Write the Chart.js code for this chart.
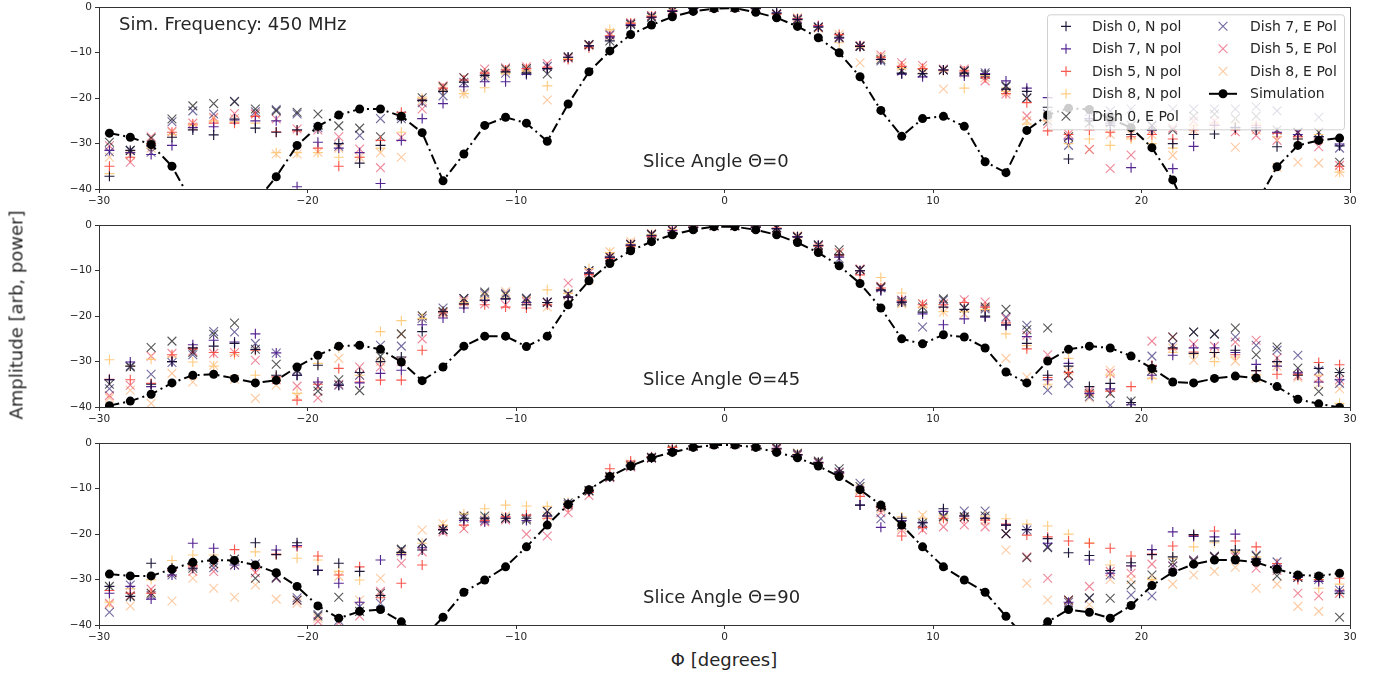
<!DOCTYPE html>
<html>
<head>
<meta charset="utf-8">
<script src="https://cdn.jsdelivr.net/npm/chart.js@4.4.1/dist/chart.umd.min.js"></script>
<style>
  body { margin: 0; background: #fff; width: 1382px; height: 675px; position: relative; overflow: hidden; font-family: "DejaVu Sans", sans-serif; }
  canvas { position: absolute; left: 0; }
  #ylab { position: absolute; left: 16px; top: 315px; transform: translate(-50%, -50%) rotate(-90deg); font-size: 18px; color: #262626; white-space: nowrap; }
  #xlab { position: absolute; left: 724px; top: 659px; transform: translate(-50%, -50%); font-size: 18px; color: #262626; white-space: nowrap; }
</style>
</head>
<body>
<canvas id="c0" width="1382" height="213" style="top:-2px"></canvas>
<canvas id="c1" width="1382" height="213" style="top:216px"></canvas>
<canvas id="c2" width="1382" height="213" style="top:434px"></canvas>
<div id="ylab">Amplitude [arb, power]</div>
<div id="xlab">Φ [degrees]</div>
<script>
// pointing angle of every sample (degrees)
const phi = [-29.5,-28.5,-27.5,-26.5,-25.5,-24.5,-23.5,-22.5,-21.5,-20.5,-19.5,-18.5,-17.5,-16.5,-15.5,-14.5,-13.5,-12.5,-11.5,-10.5,
  -9.5,-8.5,-7.5,-6.5,-5.5,-4.5,-3.5,-2.5,-1.5,-0.5,0.5,1.5,2.5,3.5,4.5,5.5,6.5,7.5,8.5,9.5,
  10.5,11.5,12.5,13.5,14.5,15.5,16.5,17.5,18.5,19.5,20.5,21.5,22.5,23.5,24.5,25.5,26.5,27.5,28.5,29.5];

const dishLabels = ['Dish 0, N pol','Dish 7, N pol','Dish 5, N pol','Dish 8, N pol','Dish 0, E Pol','Dish 7, E Pol','Dish 5, E Pol','Dish 8, E Pol'];
const xTicks = [-30, -20, -10, 0, 10, 20, 30];
const yTicks = [0, -10, -20, -30, -40];

// slice angle 0
const sim0 = [-27.7,-28.6,-30.2,-35,-43.3,-50,-52,-43,-37.3,-30.4,-26.2,-23.7,-22.4,-22.4,-24,-27.6,-38.2,-32.3,-26,-24.2,
  -25.5,-29.5,-21.3,-14.2,-9.6,-6,-3.9,-2.1,-0.9,-0.3,-0.2,-1.1,-2.3,-4.2,-6.7,-10,-15.3,-22.7,-28.4,-24.5,
  -24,-26.2,-34,-36.4,-27.1,-23.7,-22.2,-22.5,-24.5,-26.5,-30.9,-38,-48,-55,-52,-43.3,-35.1,-30.4,-29.3,-28.8];
const t0_d0n = [-37.2,-31.5,-30.5,-28.6,-27,-28.1,-24.6,-26.6,-27.5,-27,-26.8,-30,-34.3,-30.4,-24.5,-20.5,-18.5,-16.5,-15,-14.2,
  -14.5,-13.5,-11,-8.5,-7.4,-4,-2.2,-0.9,-0.3,0,0,-0.3,-1.3,-2.7,-4.4,-6.6,-8.6,-11.5,-14.5,-14.6,
  -13.8,-14.5,-14.8,-18,-18.5,-22,-33.4,-25,-26,-28,-27,-30,-28,-27.9,-26.5,-27,-30.7,-29,-28.5,-30.5];
const t0_d7n = [-31.5,-32,-32.4,-30.4,-26.5,-26.3,-24.8,-25,-25,-39.5,-29.7,-31,-32,-38.8,-29.3,-24.5,-21.2,-17.5,-16.4,-16.4,
  -14.8,-13.5,-11,-8.5,-6.5,-3.8,-2.2,-0.8,-0.2,0,0,-0.2,-1.2,-2.6,-4.2,-6.8,-8.6,-11.5,-14.7,-15.3,
  -13.8,-15.1,-14.6,-16.2,-17.8,-19.9,-29,-24.5,-25.5,-35.3,-27,-35.5,-30.6,-26,-26.4,-26.5,-27.5,-28,-28.5,-30.1];
const t0_d5n = [-35,-33,-30,-27.5,-25.7,-25.5,-25.5,-24,-27.4,-27.2,-31,-35,-33,-29.3,-23.1,-20.5,-17.8,-16,-14.5,-13.8,
  -13.5,-13.2,-11.5,-8.9,-6.3,-3.5,-2,-0.7,-0.2,0,0,-0.3,-1.5,-2.5,-4,-6,-8.4,-11,-13,-13.5,
  -13.8,-14,-15.5,-19,-21,-27.2,-28,-27,-27.5,-28.5,-28,-29,-27,-26,-27,-26,-27.7,-28.5,-29,-35];
const t0_d8n = [-36.6,-32,-31,-28,-26,-25,-25.2,-25.5,-32,-32,-32,-33,-33,-31,-27.5,-20,-18.5,-19,-17.7,-14.5,
  -14,-17.3,-11.3,-8.4,-4.9,-3.5,-1.9,-0.6,-0.1,0,0,-0.2,-1.4,-2.4,-4.3,-7.8,-8.8,-11,-13.5,-13.5,
  -14,-17.8,-15,-18.5,-25.7,-25,-30,-29,-30.4,-29,-30,-31,-26,-25.7,-25.5,-25.5,-28.5,-29,-28,-36.3];
const t0_d0e = [-29.7,-31.5,-28.8,-24.6,-21.7,-21.2,-20.8,-22.4,-22.8,-23.1,-23.5,-26.1,-26.6,-28.5,-23.9,-19.9,-17.5,-15.5,-14.5,-13.6,
  -13.5,-14.7,-10.9,-8.2,-7.4,-3.8,-2.2,-0.9,-0.3,0,0,-0.3,-1.5,-2.8,-4.4,-6.6,-8.6,-11.5,-14,-14.4,
  -13.8,-14,-14.8,-17.3,-20,-25,-28.5,-25.5,-25.5,-26,-26,-27,-24,-23.5,-24.5,-24,-27,-27.5,-27.5,-34.1];
const t0_d7e = [-31.8,-31.5,-31.9,-25.2,-22.8,-23.5,-20.7,-23,-22.5,-23.5,-26.5,-30.6,-28.2,-24.5,-24.5,-21,-19.5,-16.5,-15.5,-14.5,
  -14,-13,-11,-8.3,-6,-3.6,-2,-0.8,-0.2,0,0,-0.2,-1.4,-2.6,-4.3,-6.8,-8.6,-11.8,-14,-14.5,
  -13.8,-14,-14.4,-17.5,-19.9,-23.5,-30.4,-23,-22.8,-22.4,-26.1,-22.4,-22.4,-22.4,-22.4,-21.9,-22.8,-27.5,-24.2,-31];
const t0_d5e = [-30.5,-34.1,-28.5,-27.3,-25.5,-24.2,-23.4,-23.5,-24.6,-26.8,-27,-28.5,-31.2,-35.3,-28.6,-22.4,-17.3,-15.5,-13.6,-13.3,
  -13.1,-12.4,-11.2,-8.2,-6.2,-3.4,-1.8,-0.6,-0.1,0,0,-0.2,-1.6,-2.5,-4.5,-6.6,-8.4,-10.5,-12.2,-12.8,
  -13.6,-13.6,-16.2,-19.1,-23.9,-25.7,-27.9,-31.3,-35.5,-32.5,-27,-26.6,-25,-25,-27.4,-28.2,-29.3,-27.7,-30.7,-34.8];
const t0_d8e = [-33,-32.5,-31,-27.5,-26.2,-24.5,-24.5,-23.5,-32.3,-32.3,-31.9,-31,-33,-32,-33,-20.5,-17.8,-19,-15,-14,
  -13.5,-20.4,-11,-8.5,-5.5,-3.4,-1.8,-0.6,-0.1,0,0,-0.2,-1.5,-2.3,-4.6,-6,-12.2,-11,-13,-13.5,
  -18,-14.5,-15.5,-18.5,-25,-24,-28.5,-31.3,-28,-28,-28,-32.6,-27,-26,-30.8,-27,-35.2,-34.1,-34.3,-36.3];

// slice angle 45
const sim45 = [-39.7,-38.7,-37.2,-34.7,-33,-32.8,-33.7,-34.7,-34.1,-31.2,-28.6,-26.6,-26.4,-27.3,-30.1,-34.2,-31.2,-26.6,-24.4,-24.4,
  -26.7,-24.4,-17.5,-12.2,-8.4,-5.6,-3.6,-2.1,-1.0,-0.3,-0.3,-1.0,-2.1,-3.8,-6,-8.9,-12.8,-18.2,-25,-26.1,
  -24.1,-24.6,-27,-32.3,-34.7,-29.9,-27.3,-26.6,-27,-28.8,-31.5,-34.5,-34.7,-33.7,-33.2,-33.6,-35.5,-38.3,-39.3,-40.1];
const t45_d0n = [-34,-31,-35,-30,-27,-26.6,-26,-27.3,-33,-33,-30.8,-35.2,-32.4,-30,-29,-23.4,-19,-17.3,-16.5,-16.2,
  -17.5,-17,-15.8,-10.5,-7,-4.4,-2.2,-1.6,-0.5,-0.1,-0.1,-0.4,-0.8,-2.6,-4.5,-6.5,-10,-14.2,-16.9,-19.1,
  -18,-18.5,-20,-21.9,-26,-33,-31,-35.5,-34.8,-39,-31,-27,-28.2,-28,-27.5,-32,-30,-33,-31.5,-32.4];
const t45_d7n = [-34,-30.1,-35.5,-30,-26.3,-25.3,-25.7,-23.9,-28.1,-33,-34.5,-35.2,-34.7,-32.6,-31.9,-21.9,-20.4,-18.2,-16.5,-16.2,
  -17,-17,-15.8,-10.5,-7,-4.3,-2.3,-1.2,-0.4,-0.1,-0.1,-0.4,-0.7,-2.5,-4.4,-7,-10,-14.4,-16.9,-19.5,
  -21.9,-20.6,-20.2,-22,-24.5,-34,-30.4,-37,-36,-39.5,-33,-28.6,-27,-27,-28,-30.6,-31,-32.5,-34.5,-34];
const t45_d5n = [-33.9,-34,-34.8,-28.5,-27.2,-28,-28,-27.5,-33.4,-38.5,-35,-31.5,-34.5,-34.1,-34.1,-27.5,-19.3,-17.5,-17.5,-18,
  -18.2,-17.5,-15.8,-10.8,-7.3,-4.6,-2.5,-1.1,-0.4,-0.1,-0.1,-0.4,-0.6,-2.5,-4.6,-6.5,-10.9,-13.8,-16.5,-17.5,
  -17.5,-17,-18,-21.5,-27.2,-33.5,-32.4,-36.5,-36.5,-35.5,-30.8,-27.2,-27.9,-28,-28.5,-32,-32.8,-32.8,-30.2,-30.7];
const t45_d8n = [-29.6,-31,-29.5,-29,-30.1,-31,-28.5,-33,-34,-37,-30.4,-27,-33,-23.4,-21,-20.5,-19,-17,-16,-16,
  -17,-14.2,-15,-9.5,-6,-4,-2,-1,-0.3,-0.1,-0.1,-0.4,-0.7,-2.4,-4.3,-6.5,-10,-11.5,-14.9,-18,
  -19,-19,-18.5,-23.9,-26.5,-35,-29.3,-37,-33,-41,-33.7,-28,-28.5,-30,-29,-33,-31,-33,-33,-39.2];
const t45_d0e = [-35,-31.2,-26.9,-25.5,-28,-24,-21.5,-27.3,-30.6,-32,-36.5,-34,-36.4,-28.8,-23.9,-19.9,-19,-16.1,-14.7,-15.3,
  -16.2,-16.9,-15.1,-10,-7,-4.2,-2,-1.2,-0.4,-0.1,-0.1,-0.4,-0.5,-2.5,-4.3,-5.4,-9.8,-13.6,-16.9,-18,
  -16.2,-18.2,-18,-18.5,-23,-22.6,-33,-37,-37,-38.7,-32,-24.6,-23.5,-23.9,-22.6,-28.5,-26.8,-31.4,-36.6,-32.4];
const t45_d7e = [-36,-31,-32.8,-30.2,-28.5,-23.4,-23.5,-26,-28.1,-31.8,-35.5,-35.2,-33,-26.4,-26.6,-20.5,-18.2,-16.1,-15,-15,
  -16,-17,-15.3,-10,-7,-4.3,-2.1,-1.1,-0.4,-0.1,-0.1,-0.4,-0.6,-2.6,-4.4,-7.3,-9.8,-13.8,-16.5,-22.4,
  -16.5,-18.2,-18.4,-20.2,-22,-36.3,-34.8,-37.7,-39.6,-41,-28.8,-26.4,-23.5,-24,-24.6,-26.4,-27.5,-28.6,-32,-34.8];
const t45_d5e = [-37.5,-35.2,-28.8,-28.2,-27.7,-28.2,-28,-29.7,-34,-35.4,-38,-35,-31.2,-31.2,-30,-25,-19.2,-16.5,-17.3,-17.5,
  -16.8,-17,-12.7,-10.5,-6.8,-4.1,-1.9,-1,-0.3,-0.1,-0.1,-0.4,-0.6,-2.5,-4.6,-6,-9.6,-13.5,-16.5,-17.3,
  -17.3,-16.4,-16.9,-20.5,-24.2,-28.5,-33,-36.5,-32.6,-41,-25.5,-24.6,-26.1,-26.6,-25.7,-25.3,-29.2,-33.1,-33.7,-34];
const t45_d8e = [-38,-36.3,-39.2,-32.6,-34.5,-30.8,-33.9,-38.1,-35.2,-37.7,-35.5,-29.3,-33,-30,-24,-20,-19.5,-17,-15.5,-14.6,
  -16.5,-18,-15.5,-12,-5.8,-3.6,-1.8,-0.9,-0.3,-0.1,-0.1,-0.4,-0.7,-2.3,-4.5,-6.2,-9.8,-13.5,-17.3,-17.3,
  -19.1,-19.5,-18,-29.3,-33.4,-34.7,-32,-38,-31.9,-42,-33,-27,-29.7,-28.6,-29.9,-33.7,-31,-33.5,-35,-36];

// slice angle 90
const sim90 = [-28.8,-29.2,-29.2,-27.7,-26.2,-25.7,-25.8,-26.8,-28.5,-31.5,-35.8,-38.5,-37,-36.6,-39.3,-43,-38.3,-32.8,-30.1,-27.2,
  -22.8,-18,-13.5,-10.2,-7.3,-5,-3.2,-2,-0.9,-0.4,-0.4,-0.9,-2,-3.2,-5,-7.3,-10.2,-13.6,-18,-22.8,
  -27.2,-30.1,-32.8,-38.1,-43,-39.3,-36.6,-37.2,-38.5,-35.7,-31.3,-28.4,-26.6,-25.7,-25.7,-26.2,-27.7,-29,-29.2,-28.6];
const t90_d0n = [-31.5,-33.7,-26.4,-27.5,-27.5,-25.5,-26,-21.9,-24.5,-21.9,-28,-26.4,-28.2,-33.5,-24,-23.5,-19,-16.5,-16.5,-16.5,
  -16.5,-16,-13.5,-10.5,-7.4,-5,-3.2,-1.5,-0.6,-0.1,-0.1,-0.6,-1.2,-2.5,-4.2,-6.3,-13.6,-14,-16.5,-17.5,
  -14.4,-16,-16.5,-18,-19,-21,-24.1,-24.7,-28,-26.3,-24.5,-25,-20.1,-21.5,-23.5,-25.5,-27.5,-29.3,-29.5,-33];
const t90_d7n = [-33,-31.5,-34.3,-29,-22,-23.1,-26.8,-27,-23.5,-22.5,-27.9,-30.8,-35,-25.7,-24.5,-23,-19,-17,-17.3,-16.5,
  -17,-16,-13.3,-10.4,-7.3,-4.8,-3.1,-1.4,-0.6,-0.1,-0.1,-0.6,-1.1,-2.6,-4.3,-6.5,-13.6,-18.5,-17,-17.5,
  -15,-16,-16.5,-18,-19,-22,-35,-25.7,-28.6,-27,-23.4,-19.5,-20.5,-20.6,-20,-26,-27,-29.5,-30.4,-32.5];
const t90_d5n = [-32.4,-33,-33,-28,-27,-26,-23.4,-27.5,-24.4,-22.8,-24.8,-29,-27.2,-34,-30.8,-26.8,-19,-18,-17,-16.2,
  -15.8,-16.5,-14,-10.8,-5.6,-3.9,-3,-0.9,-0.6,-0.1,-0.1,-0.6,-1.3,-2.5,-4.4,-6.6,-11.7,-14,-20.4,-18.5,
  -16.5,-16.5,-16.9,-17.8,-20.2,-20.6,-21.5,-22,-23.1,-24.8,-24.4,-22.6,-20.3,-19.3,-21.5,-22.8,-26.5,-30,-30,-29.7];
const t90_d8n = [-35,-32,-30,-25.8,-24.6,-24.6,-26,-23.9,-24.5,-25.3,-25.7,-28.2,-30.1,-33.5,-24.2,-22,-18,-15.5,-14.4,-13.6,
  -13.8,-13.9,-13,-10.2,-7,-4.4,-2.9,-0.9,-0.6,-0.1,-0.1,-0.6,-1.2,-2.4,-4.2,-6.8,-11,-14,-16.2,-16.5,
  -16,-16,-16,-16.6,-17.8,-18.2,-20,-21.9,-26.8,-27,-30,-25.3,-22.8,-21.9,-23.9,-25,-27,-29.5,-31.9,-31];
const t90_d0e = [-31.5,-33.7,-33,-28.5,-27.5,-26.5,-25.5,-29.7,-29.5,-34.5,-38,-33.9,-37,-33,-23.3,-22,-19,-16,-16,-16.5,
  -16.9,-14.9,-13.1,-10.4,-7.4,-5,-3.2,-1.5,-0.6,-0.1,-0.1,-0.6,-0.9,-2.2,-3.9,-5.6,-9.5,-14,-18,-17.5,
  -16.2,-16.2,-16,-19.9,-25.2,-23,-34.5,-34,-34.1,-31.2,-29,-26.3,-26,-25,-24.4,-24.8,-29.2,-29.5,-29.5,-38.3];
const t90_d7e = [-37.2,-31.2,-33.5,-29,-27,-27.4,-26.8,-26.5,-29.7,-34,-37.7,-39,-36,-35.2,-23.5,-21.9,-19,-16.5,-17,-16.5,
  -16.5,-15,-13.5,-10.5,-7.3,-4.8,-3.1,-1.4,-0.6,-0.1,-0.1,-0.6,-1.1,-2.5,-4.2,-6.3,-8.8,-16.6,-18,-18,
  -16,-14.9,-14.9,-19.9,-19.1,-22.8,-35,-34.1,-29,-33.4,-33.6,-27,-25.7,-24.8,-24.4,-24.6,-26.1,-29.5,-30,-32.3];
const t90_d5e = [-35.2,-33.5,-32.1,-28.5,-28.2,-28.2,-26.8,-28.5,-29.7,-34.6,-39.2,-39.5,-38,-32.6,-26.4,-23.9,-19.5,-18.8,-17.3,-16.9,
  -20,-20.4,-15.3,-11.5,-7.6,-5.2,-3.3,-1.6,-0.6,-0.1,-0.1,-0.6,-1.3,-2.6,-4.3,-6.5,-10.5,-15.3,-19.1,-19.1,
  -18.4,-18,-18.4,-19.9,-25,-29.7,-34.5,-31.5,-28.2,-28.6,-26.6,-27,-25.7,-25,-25,-27.5,-28,-33,-33.6,-33];
const t90_d8e = [-35.5,-35.8,-33,-34.7,-29.7,-31.9,-33.9,-31.2,-34.3,-35.2,-38.5,-29.3,-34.5,-29.7,-24,-19.1,-17.7,-16,-16.5,-16,
  -16.5,-16,-13.8,-10.6,-7.2,-4.5,-3,-1.2,-0.6,-0.1,-0.1,-0.6,-1.2,-2.2,-4,-6.5,-10,-14.5,-18.5,-15.8,
  -16.5,-16.2,-17,-23.5,-30.8,-34.5,-34.7,-35.5,-30,-30,-30.4,-31,-29,-28.2,-27.3,-31.9,-31,-35.9,-37,-33];

const panels = [
  { title: 'Slice Angle Θ=0', sim: sim0, dishes: [t0_d0n, t0_d7n, t0_d5n, t0_d8n, t0_d0e, t0_d7e, t0_d5e, t0_d8e] },
  { title: 'Slice Angle Θ=45', sim: sim45, dishes: [t45_d0n, t45_d7n, t45_d5n, t45_d8n, t45_d0e, t45_d7e, t45_d5e, t45_d8e] },
  { title: 'Slice Angle Θ=90', sim: sim90, dishes: [t90_d0n, t90_d7n, t90_d5n, t90_d8n, t90_d0e, t90_d7e, t90_d5e, t90_d8e] }
];

const dishColors = ['rgba(18,12,46,0.95)', 'rgba(75,26,140,0.95)', 'rgba(248,70,60,0.9)', 'rgba(254,201,122,0.95)',
  'rgba(0,0,0,0.65)', 'rgba(45,30,110,0.65)', 'rgba(228,60,90,0.6)', 'rgba(252,160,90,0.55)'];
const FONT = '"DejaVu Sans", sans-serif';
const minus = v => String(v).replace('-', '\u2212');

function drawMark(ctx, style, x, y, r, color) {
  ctx.save();
  ctx.strokeStyle = color;
  ctx.lineWidth = 1.15;
  ctx.beginPath();
  if (style === 'cross') {
    ctx.moveTo(x - r, y); ctx.lineTo(x + r, y);
    ctx.moveTo(x, y - r); ctx.lineTo(x, y + r);
  } else {
    const d = r * 0.707;
    ctx.moveTo(x - d, y - d); ctx.lineTo(x + d, y + d);
    ctx.moveTo(x - d, y + d); ctx.lineTo(x + d, y - d);
  }
  ctx.stroke();
  ctx.restore();
}

const framePlugin = {
  id: 'frame',
  afterDatasetsDraw(chart, args, opts) {
    const ctx = chart.ctx, a = chart.chartArea;
    ctx.save();
    ctx.fillStyle = '#262626';
    ctx.font = '18px ' + FONT;
    ctx.textBaseline = 'alphabetic';
    ctx.fillText(opts.title, 643, a.top + 160);
    if (opts.freq) ctx.fillText('Sim. Frequency: 450 MHz', 119, a.top + 23);
    ctx.strokeStyle = '#333';
    ctx.lineWidth = 1;
    ctx.strokeRect(Math.round(a.left) + 0.5, Math.round(a.top) + 0.5, Math.round(a.width), Math.round(a.height));
    ctx.restore();
  },
  afterDraw(chart, args, opts) {
    if (!opts.legend) return;
    const ctx = chart.ctx;
    const a = chart.chartArea;
    const oy = a.top - 6;   // legend laid out relative to the page top of panel 1
    ctx.save();
    ctx.fillStyle = 'rgba(255,255,255,0.8)';
    ctx.strokeStyle = 'rgba(204,204,204,0.9)';
    ctx.lineWidth = 1;
    ctx.beginPath();
    ctx.roundRect(1047.5, 13.5 + oy, 297, 115, 3);
    ctx.fill();
    ctx.stroke();
    ctx.font = '14px ' + FONT;
    ctx.textBaseline = 'middle';
    const rows = [25, 47.5, 70, 92.5, 115].map(v => v + oy);
    dishLabels.forEach((lab, i) => {
      const col = i < 5 ? 0 : 1;
      const row = i < 5 ? i : i - 5;
      const mx = col ? 1223 : 1066, tx = col ? 1250 : 1092;
      drawMark(ctx, i < 4 ? 'cross' : 'crossRot', mx, rows[row], i < 4 ? 5 : 6.2, dishColors[i]);
      ctx.fillStyle = '#262626';
      ctx.fillText(lab, tx, rows[row] + 1);
    });
    ctx.strokeStyle = '#000';
    ctx.lineWidth = 2;
    ctx.beginPath();
    ctx.moveTo(1209, rows[3]); ctx.lineTo(1237, rows[3]);
    ctx.stroke();
    ctx.fillStyle = '#000';
    ctx.beginPath();
    ctx.arc(1223, rows[3], 4.5, 0, Math.PI * 2);
    ctx.fill();
    ctx.fillStyle = '#262626';
    ctx.fillText('Simulation', 1250, rows[3] + 1);
    ctx.restore();
  }
};

function makeChart(id, panel, idx) {
  const datasets = [{
    type: 'line',
    label: 'Simulation',
    data: phi.map((x, i) => ({ x: x, y: panel.sim[i] })),
    borderColor: '#000',
    backgroundColor: '#000',
    borderWidth: 2,
    borderDash: [10, 4, 2, 4],
    pointRadius: 4.5,
    pointBackgroundColor: '#000',
    pointBorderWidth: 0,
    tension: 0,
    order: 0
  }];
  panel.dishes.forEach((vals, i) => {
    datasets.push({
      type: 'scatter',
      label: dishLabels[i],
      data: phi.map((x, k) => ({ x: x, y: vals[k] })),
      pointStyle: i < 4 ? 'cross' : 'crossRot',
      pointRadius: i < 4 ? 5 : 6.2,
      pointBorderWidth: 1.15,
      borderColor: dishColors[i],
      backgroundColor: dishColors[i],
      order: 1
    });
  });

  const tickFont = { family: FONT, size: 10.5 };
  return new Chart(document.getElementById(id), {
    data: { datasets: datasets },
    options: {
      responsive: false,
      animation: false,
      layout: { padding: { top: 6, right: 32, left: 0, bottom: 0 } },
      plugins: {
        legend: { display: false },
        tooltip: { enabled: false },
        frame: { title: panel.title, freq: idx === 0, legend: idx === 0 }
      },
      scales: {
        x: {
          type: 'linear', min: -30, max: 30,
          afterBuildTicks: s => { s.ticks = xTicks.map(v => ({ value: v })); },
          ticks: { color: '#262626', font: tickFont, padding: 2, maxRotation: 0, callback: v => minus(v) },
          grid: { drawOnChartArea: false, drawTicks: true, tickLength: 4, color: '#333' },
          border: { display: true, color: '#333', width: 1 },
          afterFit: s => { s.height = 22; }
        },
        y: {
          type: 'linear', min: -40, max: 0,
          afterBuildTicks: s => { s.ticks = yTicks.map(v => ({ value: v })); },
          ticks: { color: '#262626', font: tickFont, padding: 3, callback: v => minus(v) },
          grid: { drawOnChartArea: false, drawTicks: true, tickLength: 4, color: '#333' },
          border: { display: true, color: '#333', width: 1 },
          afterFit: s => { s.width = 99; }
        }
      }
    },
    plugins: [framePlugin]
  });
}

panels.forEach((p, i) => makeChart('c' + i, p, i));
</script>
</body>
</html>
